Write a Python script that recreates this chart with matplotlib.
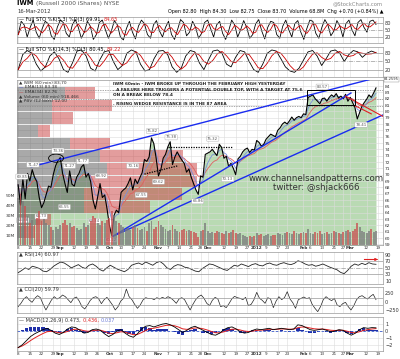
import numpy as np
import pandas as pd
import matplotlib.pyplot as plt
from matplotlib.patches import Rectangle, Ellipse
from matplotlib.transforms import blended_transform_factory

# IWM 60-min chart, one reading per trading day, Aug 8 2011 .. Mar 16 2012
price = [68.4, 65.2, 69.3, 66.2, 70.2, 69.0, 70.8, 69.6, 68.9, 66.4,
         64.8, 65.6, 66.9, 68.2, 68.0, 70.0, 71.4, 72.2, 72.7, 70.2,
         68.6, 67.2, 70.6, 68.5, 68.2, 69.6, 70.2, 71.2, 71.6, 69.6,
         70.2, 68.9, 66.0, 64.6, 66.5, 68.6, 66.4, 66.8, 64.6, 62.0,
         60.4, 63.6, 64.4, 64.0, 67.2, 67.6, 67.9, 68.6, 69.5, 67.6,
         69.3, 68.6, 69.5, 70.3, 72.4, 72.1, 72.8, 75.8, 74.9, 72.6,
         69.8, 70.8, 72.6, 73.2, 74.4, 75.2, 71.6, 72.8, 73.6, 72.9,
         72.3, 71.8, 70.4, 70.9, 69.6, 68.6, 67.6, 66.9, 69.8, 69.6,
         73.2, 73.4, 73.6, 74.0, 73.5, 73.0, 74.8, 74.3, 72.6, 72.9,
         71.3, 71.8, 71.0, 70.0, 72.5, 72.9, 73.6, 74.0, 74.2, 73.5,
         74.0, 73.9, 75.4, 75.1, 74.5, 74.8, 75.6, 76.0, 76.4, 76.2,
         76.0, 77.0, 77.4, 78.0, 78.3, 78.0, 78.5, 79.1, 78.6, 79.0,
         79.2, 79.0, 79.6, 79.5, 82.2, 82.4, 82.6, 82.0, 81.6, 81.2,
         82.0, 82.1, 81.6, 82.2, 82.6, 82.3, 82.8, 82.1, 82.4, 82.0,
         82.7, 81.6, 82.2, 81.4, 80.6, 78.8, 79.8, 80.8, 81.4, 81.9,
         82.6, 82.2, 82.9, 83.7]

volume_m = [48, 52, 45, 40, 30, 22, 25, 20, 28, 35, 24, 26, 22, 20, 18, 15, 18, 16,
            20, 22, 25, 20, 22, 18, 19, 17, 15, 16, 22, 18, 20, 24, 30, 28, 22, 20, 24, 22, 25,
            28, 35, 30, 24, 22, 20, 18, 16, 17, 15, 18, 20, 17, 15, 16, 18, 14, 22, 24, 16, 18,
            24, 20, 18, 16, 14, 15, 20, 16, 14, 13, 15, 16, 14, 15, 14, 13, 12, 8, 14, 15, 22,
            14, 12, 13, 12, 14, 13, 12, 11, 14, 12, 13, 15, 12, 11, 12, 10, 9, 8, 9, 8, 9,
            12, 10, 11, 9, 10, 11, 9, 10, 10, 12, 11, 10, 12, 13, 12, 11, 14, 12, 11, 12,
            13, 12, 16, 12, 11, 13, 12, 14, 11, 12, 13, 11, 12, 14, 13, 12, 11, 13, 14, 15,
            13, 14, 16, 22, 18, 14, 13, 12, 14, 16, 13, 14]

# price-by-volume (lower edge of 2-point bins), down and up volume, millions
pbv_low = [60, 62, 64, 66, 68, 70, 72, 74, 76, 78, 80, 82]
pbv_down = [24, 63, 200, 200, 220, 270, 250, 160, 63, 105, 105, 144]
pbv_up = [30, 40, 200, 295, 320, 270, 250, 120, 36, 63, 180, 90]

sto5 = [30, 85, 70, 20, 60, 90, 40, 15, 55, 85, 75, 25, 10, 60, 90, 80, 35, 20, 70, 92,
        60, 15, 40, 85, 65, 10, 30, 80, 90, 50, 15, 45, 88, 70, 20, 8, 55, 85, 40, 12,
        65, 90, 75, 30, 15, 70, 88, 45, 20, 60, 85, 30, 10, 50, 92, 80, 25, 40, 85, 60,
        15, 35, 80, 90, 55, 20, 70, 85, 35, 10, 45, 90, 70, 20, 50, 88, 60, 15, 30, 75,
        92, 45, 12, 60, 85, 80, 30, 15, 65, 90, 50, 20, 75, 88, 40, 10, 55, 90, 85, 35,
        15, 60, 92, 70, 25, 45, 88, 65, 20, 75, 90, 50, 25, 80, 92, 60, 40, 85, 90, 72]
sto14 = [20, 75, 90, 80, 40, 15, 30, 70, 85, 60, 20, 10, 45, 88, 92, 70, 25, 15, 55, 85,
         90, 50, 20, 35, 80, 92, 85, 40, 15, 20, 60, 88, 90, 75, 30, 10, 25, 70, 90, 85,
         45, 20, 55, 88, 92, 80, 40, 30, 65, 90, 85, 50, 20, 10, 40, 80, 92, 88, 60, 30,
         15, 10, 25, 55, 85, 90, 70, 35, 60, 88, 92, 80, 50, 75, 90, 85, 65, 80, 88, 82]
rsi = [35, 42, 50, 45, 55, 52, 48, 40, 38, 45, 55, 62, 68, 65, 58, 50, 55, 60, 52, 48,
       58, 62, 55, 45, 40, 50, 58, 52, 46, 42, 38, 45, 58, 62, 65, 60, 68, 63, 58, 66,
       70, 62, 50, 45, 55, 60, 58, 52, 50, 45, 40, 38, 48, 55, 62, 60, 55, 50, 45, 42,
       50, 58, 55, 62, 58, 54, 60, 63, 58, 56, 62, 65, 60, 58, 63, 66, 62, 60, 64, 72,
       68, 62, 58, 60, 55, 58, 62, 57, 52, 48, 44, 36, 32, 42, 55, 62, 58, 64, 60, 66,
       62, 61]
cci = [-150, -50, 80, 150, 50, -20, 100, 180, 120, -80, -250, -100, 50, 150, 80, 120, 200,
       150, 60, -30, 100, 140, 20, -150, -220, -100, 40, 120, 150, 90, -60, 60, 130, 20,
       -100, -250, -150, 20, 100, 380, 150, 60, -80, -200, -100, 50, 120, 90, 100, 60, 120,
       80, 130, 90, 150, 110, 40, -50, 80, 120, 60, -100, -250, -80, 60, 150, 200, 100,
       -50, -120, 40, 130, 80, -150, -120, -180, -60, 80, 160, 120, 100, 60, 130, -120,
       -80, 60, 280, 100, 40, -50, 120, 80, -180, 20, 150, 60, 120, 300, 80, -30, -200,
       60, 100, 140, 90, 120, -80, -200, -300, -150, 60, 150, 80, 30, 100, -100, -150,
       -60, -20, -150, -250, -120, 60, 150, 180, 120, 80, 160, 220, 60]
macd = [-2.4, -2.0, -1.4, -0.8, -0.4, -0.1, 0.2, 0.4, 0.1, -0.3, -0.5, -0.2, 0.3, 0.6,
        0.5, 0.1, -0.3, -0.2, 0.2, 0.3, 0.1, -0.4, -0.8, -0.5, 0.0, 0.2, -0.3, -0.7, -0.9,
        -0.4, 0.3, 0.7, 0.8, 0.6, 0.8, 1.0, 1.1, 0.9, 0.6, 0.2, -0.2, 0.1, 0.5, 0.7, 0.4,
        0.1, -0.2, -0.5, -0.6, -0.3, 0.2, 0.5, 0.6, 0.3, -0.1, -0.3, -0.2, 0.1, 0.3, 0.2,
        0.3, 0.4, 0.2, 0.3, 0.4, 0.3, 0.2, 0.3, 0.9, 0.8, 0.5, 0.2, 0.1, 0.2, 0.3, 0.1,
        -0.1, 0.0, 0.2, 0.1, -0.3, -0.6, -0.3, 0.2, 0.5, 0.4, 0.5, 0.47]

tick_pos = [0, 5, 10, 15, 18, 24, 29, 34, 39, 44, 49, 54, 60, 64, 69, 74, 78, 81, 88,
            93, 98, 102, 106, 111, 115, 122, 125, 130, 135, 139, 142, 149, 154]
tick_lab = ['8', '15', '22', '29', 'Sep', '12', '19', '26', 'Oct', '10', '17', '24',
            'Nov', '7', '14', '21', '28', 'Dec', '12', '19', '27', '2012', '9', '17',
            '23', 'Feb', '6', '13', '21', '27', 'Mar', '12', '19']
bold_lab = {'Sep', 'Oct', 'Nov', 'Dec', '2012', 'Feb', 'Mar'}

# swing labels (day index, price, text)
swing = [(1.6, 69.7, '69.85'), (6.3, 71.6, '71.47'), (2.0, 62.8, '64.86'),
         (9.8, 63.4, '64.73'), (17.0, 73.8, '73.36'), (19.8, 64.9, '66.55'),
         (21.9, 71.4, '71.27'), (27.6, 72.1, '71.77'), (32.6, 62.7, '64.34'),
         (35.5, 69.8, '68.92'), (39.7, 59.7, '60.12'), (49.0, 71.4, '70.16'),
         (52.6, 66.8, '67.55'), (57.5, 76.9, '75.82'), (60.0, 68.9, '69.62'),
         (65.4, 75.9, '75.38'), (76.8, 65.8, '66.86'), (83.2, 75.7, '75.32'),
         (89.6, 69.3, '70.13'), (130.0, 83.9, '83.57'), (146.6, 77.9, '78.41')]

W, H = 400, 359
fig = plt.figure(figsize=(W / 100, H / 100), dpi=100)
FS = 3.6
GRID = '#dcdcdc'


def panel(top, bottom):
    return fig.add_axes([17 / W, 1 - bottom / H, 366 / W, (bottom - top) / H])


def style(ax, xlabels=False):
    ax.set_xlim(-0.5, 156)
    ax.set_xticks(tick_pos)
    ax.grid(True, color=GRID, lw=0.4)
    ax.yaxis.tick_right()
    ax.tick_params(length=0, labelsize=FS, pad=1.5, colors='#333333')
    for s in ax.spines.values():
        s.set_color('#999999')
        s.set_linewidth(0.5)
    if xlabels:
        ax.set_xticklabels(tick_lab)
        ax.tick_params(axis='x', labelsize=3.0, pad=1.0)
        for t in ax.get_xticklabels():
            if t.get_text() in bold_lab:
                t.set_fontweight('bold')
    else:
        ax.set_xticklabels([])


def label_row(ax, parts, y=0.99, size=FS):
    t = ax.text(0.006, y, parts[0][0], color=parts[0][1], transform=ax.transAxes,
                fontsize=size, va='top', ha='left', zorder=10)
    for s, c in parts[1:]:
        t = ax.annotate(s, xy=(1, 0), xycoords=t, va='bottom', ha='left',
                        fontsize=size, color=c, zorder=10)


# header
hd = fig.text(17 / W, 1 - 5 / H, 'IWM ', fontsize=4.8, fontweight='bold', va='baseline')
fig.text(0, 0, '(Russell 2000 iShares) NYSE', fontsize=4.2, color='#555555',
         va='baseline', transform=hd.get_transform())
fig.texts[-1].remove()
fig.add_artist(plt.Annotation('(Russell 2000 iShares) NYSE', xy=(1, 0), xycoords=hd,
                              fontsize=4.2, color='#555555', va='bottom', ha='left'))
fig.text(17 / W, 1 - 11.5 / H, '16-Mar-2012', fontsize=3.8, color='#333333', va='center')
fig.text(383 / W, 1 - 4 / H, '@StockCharts.com', fontsize=3.8, color='#888888', ha='right', va='center')
fig.text(383 / W, 1 - 11 / H, 'Open 82.80  High 84.30  Low 82.75  Close 83.70  Volume 68.8M  Chg +0.70 (+0.84%) \u25b2',
         fontsize=3.5, ha='right', va='center')

x_sto5 = np.linspace(0, 153, len(sto5))
x_sto14 = np.linspace(0, 153, len(sto14))
for (top, bot), xs, vals, lab in [((16.7, 43.3), x_sto5, sto5, ('Full STO %K(5,3) %D(3) 69.91, ', '84.65')),
                                  ((46.7, 76.7), x_sto14, sto14, ('Full STO %K(14,3) %D(3) 80.45, ', '89.22'))]:
    ax = panel(top, bot)
    k = pd.Series(vals)
    d = k.rolling(3, min_periods=1).mean()
    ax.plot(xs, k, color='black', lw=0.6)
    ax.plot(xs, d, color='#cc0000', lw=0.6)
    ax.axhline(80, color='#999999', lw=0.5)
    ax.axhline(20, color='#999999', lw=0.5)
    ax.axhline(50, color='#999999', lw=0.5, ls='-.')
    ax.set_ylim(-6, 104)
    ax.set_yticks([20, 50, 80])
    style(ax)
    ax.grid(False, axis='y')
    label_row(ax, [('\u2014 ' + lab[0], 'black'), (lab[1], '#dd2222')])

# main price panel
ax = panel(80, 245)
vax = ax.twinx()
days = np.arange(len(price))
ax.fill_between(days, price, 50, color='#b9dab3', lw=0, zorder=1)
xy_tr = blended_transform_factory(ax.transAxes, ax.transData)
scale = 1100.0
ax.barh(pbv_low, np.array(pbv_down) / scale, height=1.85, left=0, align='edge',
        color='#555555', alpha=0.5, transform=xy_tr, zorder=2)
ax.barh(pbv_low, np.array(pbv_up) / scale, height=1.85, left=np.array(pbv_down) / scale,
        align='edge', color='#c83c3c', alpha=0.5, transform=xy_tr, zorder=2)
ema_fast = pd.Series(price).ewm(span=4).mean()
ema_slow = pd.Series(price).ewm(span=10).mean()
ax.plot(days, ema_slow, color='#e06060', lw=0.6, zorder=4)
ax.plot(days, ema_fast, color='#7a90d8', lw=0.6, zorder=4)
ax.plot(days, price, color='black', lw=0.8, zorder=5)

# trend lines and patterns
ax.plot([5.6, 150], [71.25, 85.0], color='#1a2cf0', lw=1.0, zorder=6)
ax.plot([40.6, 157], [60.3, 79.6], color='#1a2cf0', lw=1.0, zorder=6)
ax.plot([40.6, 142.3], [60.3, 82.9], color='#1a2cf0', lw=1.0, zorder=6)
ax.plot([140, 156], [82.4, 79.2], color='#e02020', lw=0.8, zorder=6)
ax.plot([144, 151], [80.9, 79.6], color='#e02020', lw=0.8, zorder=6)
ax.plot([64, 92], [74.4, 74.4], color='black', lw=0.9, ls=(0, (1, 1)), zorder=6)
ax.plot([54, 68.3], [70.1, 71.4], color='black', lw=0.9, ls=(0, (1, 1)), zorder=6)
for lvl in [83.4, 81.9, 80.9]:
    ax.axhline(lvl, color='#888888', lw=0.5, ls=(0, (2, 1.5)), zorder=3)
ax.add_patch(Rectangle((123.5, 81.0), 20.5, 2.4, fill=False, ec='black', lw=0.7, zorder=6))
ax.add_patch(Ellipse((16.2, 72.6), 6.4, 1.3, fill=False, ec='black', lw=0.6, zorder=6))
for xi, yi, s in swing:
    ax.text(xi, yi, s, fontsize=2.8, color='#555555', ha='center', va='center', zorder=7,
            bbox=dict(boxstyle='round,pad=0.15', fc='white', ec='#aaaaaa', lw=0.3))

ax.set_ylim(58.9, 84.95)
ax.set_yticks(range(59, 85))
style(ax, xlabels=True)
ax.tick_params(axis='y', labelsize=3.2)
ax.text(1.003, 1.005, '84.2595', transform=ax.transAxes, fontsize=2.6, color='#333333',
        ha='left', va='center', bbox=dict(boxstyle='square,pad=0.1', fc='white', ec='#888888', lw=0.3))

legend_rows = [[('\u25b2 IWM (60 min) 83.70', '#333333')],
               [('\u2014 ', '#1a2cf0'), ('EMA(13) 83.38', '#333333')],
               [('\u2014 ', '#e02020'), ('EMA(34) 82.76', '#333333')],
               [('\u25b2 Volume (60 min) 918,466', '#333333')],
               [('\u25b2 PBV (12 bars) 12.00', '#333333')]]
for i, row in enumerate(legend_rows):
    label_row(ax, row, y=0.997 - i * 0.028, size=3.2)

vcol = ['#c85050' if i > 0 and price[i] < price[i - 1] else '#7a7a7a' for i in range(len(price))]
vax.bar(days, volume_m, width=0.8, color=vcol, alpha=0.75, zorder=3)
vax.set_ylim(0, 168)
vax.set_yticks([10, 20, 30, 40, 50])
vax.set_yticklabels(['10M', '20M', '30M', '40M', '50M'])
vax.yaxis.tick_left()
vax.tick_params(length=0, labelsize=3.2, pad=1.5, colors='#333333')
for s in vax.spines.values():
    s.set_visible(False)
ax.yaxis.tick_right()

notes = ['IWM 60min - IWM BROKE UP THROUGH THE FEBRUARY HIGH YESTERDAY',
         '. A FAILURE HERE TRIGGERS A POTENTIAL DOUBLE TOP, WITH A TARGET AT 75.6',
         'ON A BREAK BELOW 78.4',
         '. RISING WEDGE RESISTANCE IS IN THE 87 AREA']
for yy, s in zip([84, 90, 95.5, 104], notes):
    fig.text(113 / W, 1 - yy / H, s, fontsize=3.1, fontweight='bold', color='#222222',
             va='center', family=['Liberation Sans Narrow', 'DejaVu Sans'])
fig.text(316 / W, 1 - 178 / H, 'www.channelsandpatterns.com', fontsize=6.2, color='#333333',
         ha='center', va='center')
fig.text(316 / W, 1 - 188 / H, 'twitter: @shjack666', fontsize=6.2, color='#333333',
         ha='center', va='center')

# RSI
ax = panel(251.7, 284)
ax.plot(np.linspace(0, 153, len(rsi)), rsi, color='#222222', lw=0.6)
ax.axhline(70, color='#999999', lw=0.5)
ax.axhline(30, color='#999999', lw=0.5)
ax.axhline(50, color='#999999', lw=0.5, ls='-.')
ax.plot([148, 153], [76, 76], color='#e02020', lw=0.8)
ax.annotate('', xy=(155, 76), xytext=(152, 76),
            arrowprops=dict(arrowstyle='-|>', color='#e02020', lw=0.6, mutation_scale=4))
ax.set_ylim(0, 100)
ax.set_yticks([10, 30, 50, 70, 90])
style(ax)
ax.grid(False, axis='y')
label_row(ax, [('\u25b2 RSI(14) 60.97', '#333333')])

# CCI
ax = panel(286.7, 313.3)
ax.plot(np.linspace(0, 153, len(cci)), cci, color='#222222', lw=0.5)
ax.axhline(100, color='#999999', lw=0.5)
ax.axhline(-100, color='#999999', lw=0.5)
ax.set_ylim(-350, 450)
ax.set_yticks([-250, 0, 250])
style(ax)
ax.grid(False, axis='y')
label_row(ax, [('\u25b2 CCI(20) 59.79', '#333333')])

# MACD
ax = panel(317.3, 351)
xm = np.linspace(0, 153, len(macd))
m = pd.Series(macd)
sig = m.ewm(span=5).mean()
ax.bar(xm, m - sig, width=1.5, color='#1f2fa8', zorder=2)
ax.axhline(0, color='#4060d0', lw=0.6, ls=(0, (3, 2)))
ax.plot(xm, sig, color='#e02020', lw=0.7, zorder=3)
ax.plot(xm, m, color='black', lw=0.6, zorder=4)
ax.set_ylim(-2.9, 2.0)
ax.set_yticks([-2, -1, 0, 1])
style(ax, xlabels=True)
label_row(ax, [('\u2014 MACD(12,26,9) 0.473, ', '#333333'), ('0.436, ', '#dd2222'),
               ('0.037', '#6a7ad8')])

fig.savefig('out.png', dpi=100)
